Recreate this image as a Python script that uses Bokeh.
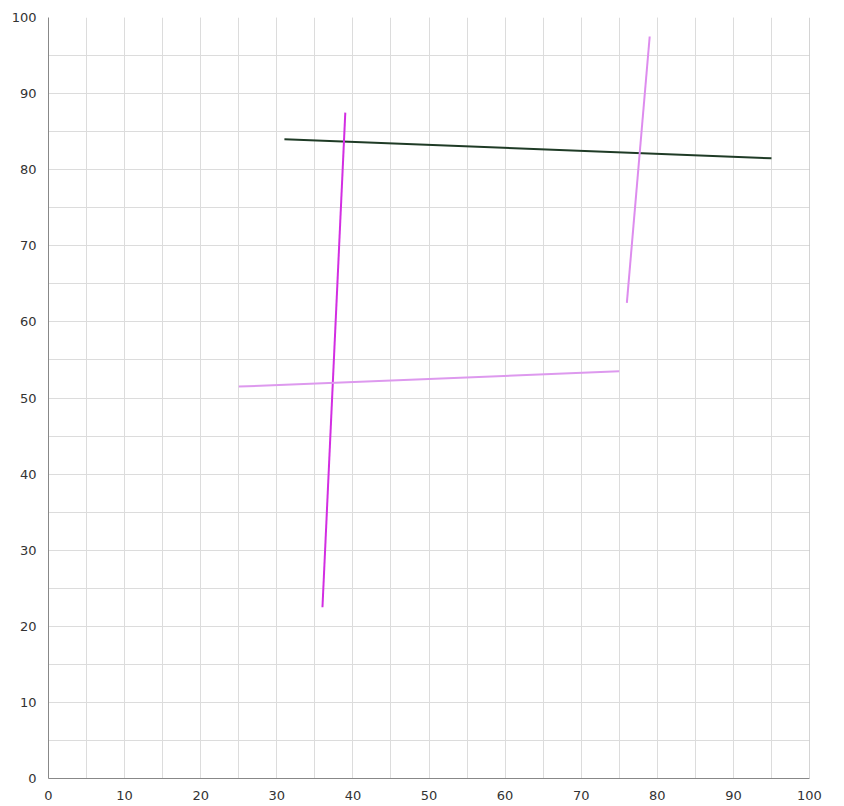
from bokeh.plotting import figure
from bokeh.models import Range1d, SingleIntervalTicker, Span
from bokeh.embed import file_html
from bokeh.resources import INLINE

# segments: (x0, y0) -> (x1, y1)
seg_x0 = [31, 36, 25, 76]
seg_y0 = [84, 22.5, 51.5, 62.5]
seg_x1 = [95, 39, 75, 79]
seg_y1 = [81.5, 87.5, 53.5, 97.5]
seg_colors = ["#1f3b26", "#d22ee2", "#dd99ee", "#dd8cee"]

p = figure(width=829, height=803, output_backend="svg", toolbar_location=None,
           x_range=Range1d(0, 100), y_range=Range1d(0, 100),
           min_border_left=48, min_border_right=20, min_border_top=17, min_border_bottom=25)
p.outline_line_color = None
p.background_fill_color = "white"
p.border_fill_color = "white"

for ax in (p.xaxis, p.yaxis):
    ax.ticker = SingleIntervalTicker(interval=10, num_minor_ticks=2)
    ax.major_tick_line_color = None
    ax.minor_tick_line_color = None
    ax.axis_line_color = "#888888"
    ax.major_label_text_font = "DejaVu Sans"
    ax.major_label_text_font_size = "13px"
    ax.major_label_text_color = "#333333"
    ax.major_label_standoff = 6

for g in (p.xgrid, p.ygrid):
    g.grid_line_color = "#dcdcdc"
    g.minor_grid_line_color = "#dcdcdc"
    g.grid_line_width = 1
    g.minor_grid_line_width = 1

p.add_layout(Span(location=100, dimension="height", line_color="#aaaaaa", line_width=1))

p.segment(x0=seg_x0, y0=seg_y0, x1=seg_x1, y1=seg_y1, line_color=seg_colors, line_width=2)

open("out.html", "w").write(file_html(p, INLINE))
